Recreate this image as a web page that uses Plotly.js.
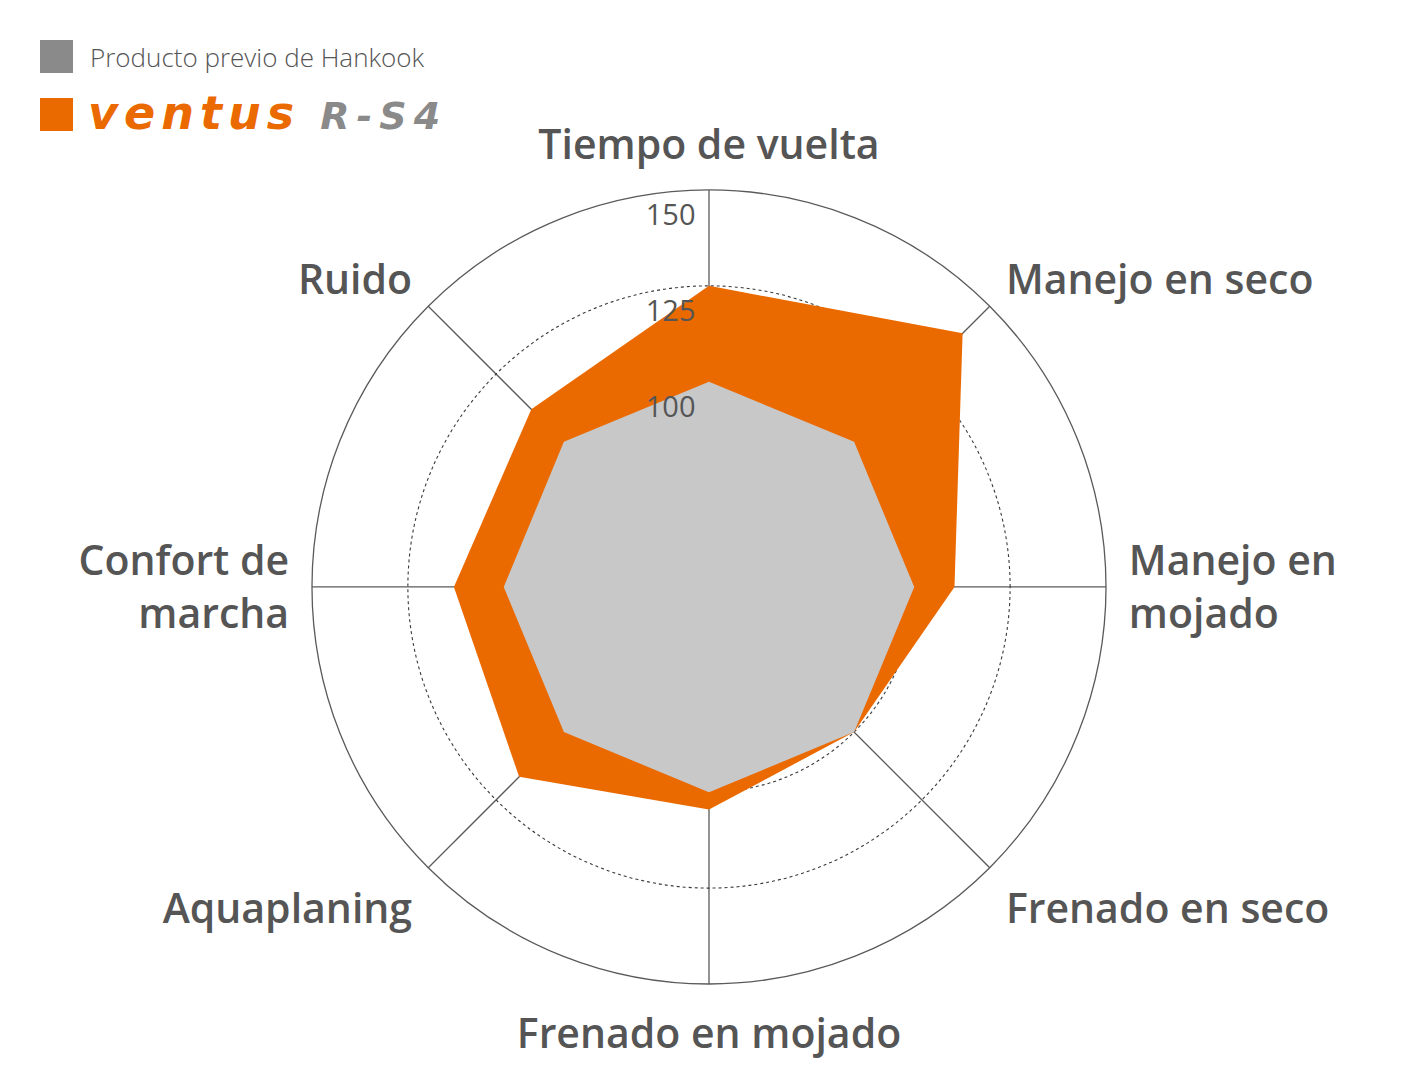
<!DOCTYPE html>
<html>
<head>
<meta charset="utf-8">
<script src="https://cdn.plot.ly/plotly-3.0.1.min.js"></script>
<style>
  html, body { margin: 0; padding: 0; background: #fff; }
  #chart { width: 1416px; height: 1072px; }
</style>
</head>
<body>
<div id="chart"></div>
<script>
// categories, clockwise from the top
const categories = [
  "Tiempo de vuelta",
  "Manejo en seco",
  "Manejo en<br>mojado",
  "Frenado en seco",
  "Frenado en mojado",
  "Aquaplaning",
  "Confort de<br>marcha",
  "Ruido"
];
const previousValues = [100, 100, 100, 100, 100, 100, 100, 100];
const ventusValues = [125, 140, 110.5, 100, 104.5, 116.5, 113, 112];
const radialTicks = [100, 125, 150];
const radialTickLabels = ["100", "125", "150"];
const seriesNames = ["Producto previo de Hankook", "ventus", "R-S4"];

const textColor = "#555555";
const lineColor = "#5a5a5a";

const traces = [
  {
    type: "scatterpolar",
    r: ventusValues,
    theta: categories,
    name: seriesNames[1] + " " + seriesNames[2],
    fill: "toself",
    fillcolor: "#eb6a00",
    mode: "lines",
    line: { width: 0, color: "#eb6a00" },
    hoverinfo: "skip"
  },
  {
    type: "scatterpolar",
    r: previousValues,
    theta: categories,
    name: seriesNames[0],
    fill: "toself",
    fillcolor: "#c8c8c8",
    mode: "lines",
    line: { width: 0, color: "#c8c8c8" },
    hoverinfo: "skip"
  },
  {
    // radial tick labels, set below and left of each ring on the top spoke
    type: "scatterpolar",
    r: radialTicks,
    theta: radialTicks.map(function () { return categories[0]; }),
    mode: "markers+text",
    marker: { size: 20, opacity: 0 },
    text: radialTickLabels,
    textposition: "bottom left",
    textfont: { family: "Open Sans, sans-serif", size: 29, color: textColor },
    hoverinfo: "skip",
    cliponaxis: false
  }
];

const layout = {
  width: 1416,
  height: 1072,
  margin: { l: 0, r: 0, t: 0, b: 0 },
  paper_bgcolor: "#ffffff",
  showlegend: false,
  font: { family: "Open Sans, sans-serif", color: textColor },
  polar: {
    domain: { x: [0.2203, 0.7811], y: [0.0821, 0.8228] },
    bgcolor: "#ffffff",
    angularaxis: {
      direction: "clockwise",
      rotation: 90,
      showline: true,
      linecolor: lineColor,
      linewidth: 1.3,
      gridcolor: lineColor,
      gridwidth: 1.3,
      layer: "above traces",
      ticks: "outside",
      ticklen: 14,
      tickcolor: "rgba(0,0,0,0)",
      tickfont: { family: "Open Sans, sans-serif", size: 41, weight: 600, color: textColor }
    },
    radialaxis: {
      range: [46.5, 150],
      tickvals: radialTicks,
      showticklabels: false,
      angle: 90,
      showline: false,
      gridcolor: "#3a3a3a",
      gridwidth: 1.1,
      griddash: "dot",
      layer: "above traces",
      ticks: ""
    }
  },
  shapes: [
    { type: "rect", xref: "paper", yref: "paper", x0: 40 / 1416, x1: 73 / 1416, y0: 1 - 73 / 1072, y1: 1 - 40 / 1072,
      fillcolor: "#8a8a8a", line: { width: 0 } },
    { type: "rect", xref: "paper", yref: "paper", x0: 40 / 1416, x1: 73 / 1416, y0: 1 - 131 / 1072, y1: 1 - 98 / 1072,
      fillcolor: "#eb6a00", line: { width: 0 } }
  ],
  annotations: [
    { xref: "paper", yref: "paper", x: 88 / 1416, y: 1 - 57 / 1072, xanchor: "left", yanchor: "middle",
      text: seriesNames[0], showarrow: false,
      font: { family: "Open Sans, sans-serif", size: 26, weight: 300, color: textColor } },
    { xref: "paper", yref: "paper", x: 86 / 1416, y: 1 - 113 / 1072, xanchor: "left", yanchor: "middle",
      text: "<i><span style='color:#eb6a00;letter-spacing:6px'>" + seriesNames[1] + "</span>" +
            "<span style='color:#8a8a8a;font-size:38px;letter-spacing:7px'> " + seriesNames[2] + "</span></i>",
      showarrow: false,
      font: { family: "DejaVu Sans, sans-serif", size: 46, weight: 700 } }
  ]
};

Plotly.newPlot("chart", traces, layout, { staticPlot: true });
</script>
</body>
</html>
